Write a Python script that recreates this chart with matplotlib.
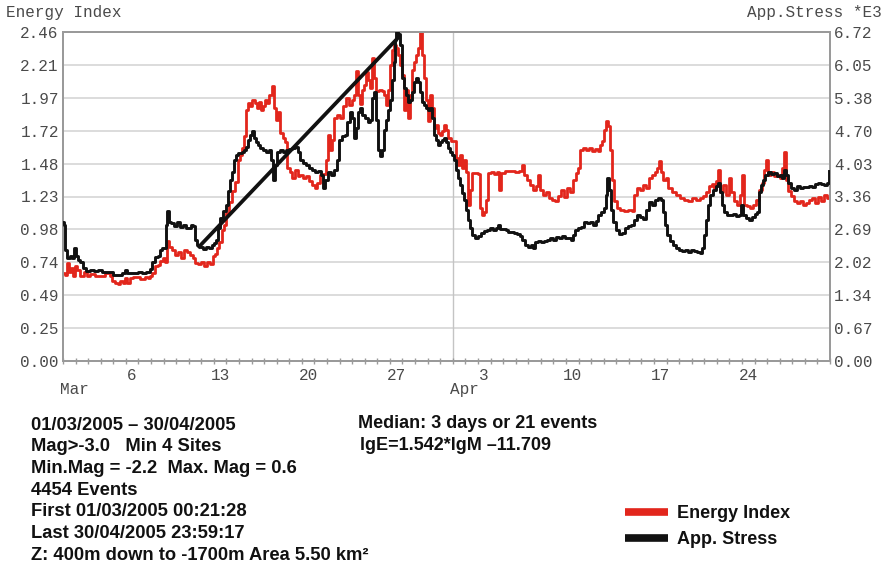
import matplotlib
matplotlib.use("Agg")
import matplotlib.pyplot as plt
from matplotlib.lines import Line2D
from matplotlib.transforms import blended_transform_factory

# ---- time axis: days since 01/03/2005 00:00 ----
day_ticks = [5.5, 12.5, 19.5, 26.5, 33.5, 40.5, 47.5, 54.5]
day_labels = ["6", "13", "20", "27", "3", "10", "17", "24"]
month_starts = [0, 31]
month_labels = ["Mar", "Apr"]

left_ticks = [0.00, 0.246, 0.492, 0.738, 0.984, 1.23, 1.476, 1.722, 1.968, 2.214, 2.46]
left_labels = ["0.00", "0.25", "0.49", "0.74", "0.98", "1.23", "1.48", "1.72", "1.97", "2.21", "2.46"]
right_ticks = [0.0, 0.672, 1.344, 2.016, 2.688, 3.36, 4.032, 4.704, 5.376, 6.048, 6.72]
right_labels = ["0.00", "0.67", "1.34", "2.02", "2.69", "3.36", "4.03", "4.70", "5.38", "6.05", "6.72"]

# ---- Energy Index (left axis) ----
ei_day = [0.00, 0.16, 0.32, 0.48, 0.64, 0.79, 0.95, 1.11, 1.35, 1.67, 1.91, 2.15, 2.54, 2.94, 3.34,
          3.74, 3.90, 4.13, 4.37, 4.53, 4.77, 4.93, 5.09, 5.33, 5.56, 5.88, 6.12, 6.52, 6.76, 6.92,
          7.07, 7.31, 7.55, 7.71, 7.95, 8.11, 8.27, 8.43, 8.66, 8.90, 9.14, 9.38, 9.62, 9.86, 10.10,
          10.33, 10.49, 10.73, 10.97, 11.21, 11.45, 11.69, 11.92, 12.08, 12.24, 12.40, 12.64, 12.80,
          12.96, 13.20, 13.43, 13.67, 13.91, 14.07, 14.23, 14.39, 14.55, 14.71, 14.86, 15.02, 15.26,
          15.42, 15.58, 15.74, 15.90, 16.06, 16.22, 16.38, 16.61, 16.77, 16.93, 17.09, 17.25, 17.49,
          17.65, 17.81, 18.04, 18.20, 18.44, 18.68, 18.84, 19.08, 19.32, 19.56, 19.79, 20.03, 20.19,
          20.43, 20.67, 20.91, 21.07, 21.22, 21.38, 21.54, 21.78, 22.02, 22.26, 22.50, 22.73, 22.97,
          23.13, 23.29, 23.45, 23.61, 23.77, 23.93, 24.09, 24.24, 24.40, 24.56, 24.72, 24.88, 25.12,
          25.36, 25.52, 25.68, 25.83, 25.99, 26.15, 26.31, 26.47, 26.63, 26.79, 26.95, 27.11, 27.27,
          27.42, 27.58, 27.74, 27.90, 28.06, 28.22, 28.38, 28.54, 28.70, 28.86, 29.01, 29.17, 29.33,
          29.49, 29.65, 29.81, 29.97, 30.13, 30.29, 30.45, 30.60, 30.84, 31.08, 31.24, 31.40, 31.56,
          31.72, 31.88, 32.03, 32.19, 32.35, 32.51, 32.75, 32.99, 33.15, 33.31, 33.47, 33.62, 33.78,
          34.02, 34.26, 34.50, 34.66, 34.82, 35.13, 35.53, 35.93, 36.25, 36.49, 36.65, 36.88, 37.12,
          37.36, 37.60, 37.76, 37.92, 38.16, 38.39, 38.63, 38.87, 39.11, 39.35, 39.59, 39.82, 40.06,
          40.30, 40.54, 40.78, 40.94, 41.10, 41.33, 41.57, 41.81, 42.05, 42.29, 42.53, 42.69, 42.84,
          43.00, 43.16, 43.32, 43.48, 43.64, 43.80, 44.04, 44.28, 44.59, 44.91, 45.23, 45.39, 45.63,
          45.87, 46.10, 46.34, 46.58, 46.82, 47.06, 47.22, 47.38, 47.54, 47.69, 47.93, 48.09, 48.41,
          48.73, 49.05, 49.37, 49.68, 50.00, 50.32, 50.64, 50.87, 51.11, 51.35, 51.59, 51.75, 51.91,
          52.07, 52.22, 52.46, 52.70, 52.94, 53.10, 53.34, 53.58, 53.81, 53.97, 54.13, 54.37, 54.61,
          54.85, 55.09, 55.32, 55.56, 55.72, 55.88, 56.04, 56.28, 56.52, 56.76, 56.99, 57.15, 57.31,
          57.47, 57.63, 57.87, 58.11, 58.35, 58.58, 58.82, 59.06, 59.30, 59.54, 59.78, 60.02, 60.25,
          60.49, 60.73, 60.97]
ei_val = [0.658, 0.643, 0.733, 0.665, 0.695, 0.636, 0.710, 0.680, 0.636, 0.665, 0.636, 0.650, 0.636, 0.636, 0.658,
          0.636, 0.598, 0.583, 0.576, 0.598, 0.583, 0.621, 0.583, 0.621, 0.628, 0.628, 0.613, 0.628, 0.621, 0.636,
          0.658, 0.710, 0.718, 0.748, 0.770, 0.740, 0.897, 0.852, 0.830, 0.793, 0.815, 0.770, 0.830, 0.815, 0.793,
          0.770, 0.733, 0.725, 0.740, 0.710, 0.740, 0.725, 0.785, 0.800, 0.845, 0.890, 0.979, 1.017,
          1.107, 1.189, 1.271, 1.338, 1.503, 1.540, 1.593, 1.682, 1.877, 1.929, 1.907, 1.951, 1.929,
          1.892, 1.937, 1.877, 1.907, 1.951, 1.929, 1.989, 2.056, 1.892, 1.802, 1.862, 1.705, 1.667,
          1.637, 1.443, 1.413, 1.368, 1.428, 1.383, 1.391, 1.368, 1.383, 1.346, 1.316, 1.294, 1.331,
          1.391, 1.398, 1.503, 1.690, 1.578, 1.652, 1.817, 1.839, 1.817, 1.907, 1.966, 1.914, 1.951,
          1.989, 2.168, 1.989, 1.922, 2.026, 2.064, 2.161, 2.101, 2.041, 2.266, 2.116, 2.019, 2.026,
          2.019, 1.989, 1.914, 2.026, 2.213, 2.325, 2.363, 2.340, 2.288, 2.213, 2.138, 1.877, 2.026,
          1.817, 1.989, 2.176, 2.236, 2.288, 2.340, 2.460, 2.288, 2.116, 1.951, 1.794, 1.989, 1.892,
          1.742, 1.765, 1.705, 1.690, 1.720, 1.765, 1.727, 1.667, 1.645, 1.645, 1.518, 1.465, 1.540,
          1.443, 1.503, 1.413, 1.166, 1.279, 1.406, 1.406, 1.398, 1.144, 1.092, 1.114, 1.204, 1.406,
          1.413, 1.398, 1.413, 1.279, 1.406, 1.421, 1.421, 1.413, 1.421, 1.465, 1.391, 1.353, 1.316,
          1.279, 1.308, 1.391, 1.279, 1.241, 1.264, 1.219, 1.204, 1.196, 1.234, 1.279, 1.226, 1.294,
          1.264, 1.353, 1.406, 1.443, 1.578, 1.593, 1.578, 1.593, 1.570, 1.585, 1.570, 1.615, 1.645,
          1.727, 1.794, 1.757, 1.578, 1.353, 1.196, 1.144, 1.129, 1.122, 1.129, 1.122, 1.241, 1.294,
          1.279, 1.316, 1.294, 1.368, 1.391, 1.413, 1.443, 1.495, 1.413, 1.353, 1.368, 1.294, 1.264,
          1.241, 1.219, 1.204, 1.196, 1.219, 1.204, 1.219, 1.234, 1.264, 1.308, 1.323, 1.294, 1.346,
          1.428, 1.264, 1.316, 1.241, 1.368, 1.264, 1.196, 1.166, 1.241, 1.391, 1.166, 1.159, 1.144,
          1.166, 1.204, 1.279, 1.331, 1.428, 1.503, 1.391, 1.413, 1.383, 1.391, 1.368, 1.443, 1.563,
          1.353, 1.271, 1.234, 1.196, 1.181, 1.196, 1.166, 1.181, 1.204, 1.219, 1.181, 1.226, 1.196,
          1.241, 1.219, 1.279]

# ---- Apparent Stress *E3 (right axis) ----
as_day = [0.00, 0.08, 0.16, 0.32, 0.56, 0.72, 0.87, 1.03, 1.19, 1.35, 1.59, 1.83, 2.15, 2.46, 2.78,
          3.10, 3.42, 3.74, 3.97, 4.21, 4.45, 4.69, 4.93, 5.09, 5.33, 5.64, 5.96, 6.28, 6.60, 6.92,
          7.07, 7.31, 7.55, 7.71, 7.87, 8.03, 8.19, 8.27, 8.43, 8.58, 8.82, 9.06, 9.30, 9.54, 9.78,
          10.02, 10.17, 10.33, 10.49, 10.65, 10.89, 11.13, 11.37, 11.61, 11.84, 12.00, 12.16, 12.32,
          12.48, 12.72, 12.96, 13.12, 13.27, 13.43, 13.59, 13.75, 13.91, 14.07, 14.23, 14.39, 14.55,
          14.71, 14.86, 15.02, 15.18, 15.34, 15.50, 15.66, 15.90, 16.14, 16.38, 16.53, 16.69, 16.85,
          17.01, 17.25, 17.49, 17.73, 17.97, 18.20, 18.44, 18.68, 18.84, 19.08, 19.32, 19.56, 19.79,
          20.03, 20.27, 20.51, 20.67, 20.83, 21.07, 21.30, 21.54, 21.78, 21.94, 22.18, 22.42, 22.58,
          22.81, 22.97, 23.13, 23.29, 23.45, 23.61, 23.77, 24.01, 24.24, 24.40, 24.56, 24.72, 24.88,
          25.04, 25.20, 25.36, 25.52, 25.68, 25.83, 25.99, 26.15, 26.31, 26.39, 26.47, 26.63, 26.79,
          26.95, 27.11, 27.27, 27.42, 27.58, 27.74, 27.90, 28.06, 28.22, 28.38, 28.54, 28.70, 28.86,
          29.01, 29.17, 29.33, 29.49, 29.65, 29.81, 29.97, 30.13, 30.29, 30.45, 30.60, 30.76, 30.92,
          31.08, 31.24, 31.40, 31.56, 31.72, 31.88, 32.03, 32.19, 32.35, 32.51, 32.75, 32.99, 33.23,
          33.47, 33.70, 33.94, 34.18, 34.42, 34.58, 34.74, 34.98, 35.21, 35.37, 35.61, 35.85, 36.09,
          36.33, 36.49, 36.72, 36.96, 37.20, 37.36, 37.52, 37.76, 38.00, 38.24, 38.47, 38.71, 38.95,
          39.19, 39.43, 39.67, 39.90, 40.14, 40.38, 40.54, 40.70, 40.94, 41.18, 41.41, 41.65, 41.89,
          42.13, 42.37, 42.53, 42.77, 43.00, 43.16, 43.24, 43.40, 43.56, 43.72, 43.96, 44.20, 44.44,
          44.67, 44.91, 45.15, 45.39, 45.63, 45.87, 46.10, 46.34, 46.58, 46.82, 47.06, 47.30, 47.54,
          47.69, 47.85, 48.01, 48.25, 48.49, 48.73, 48.97, 49.21, 49.44, 49.68, 49.92, 50.16, 50.40,
          50.64, 50.79, 50.95, 51.11, 51.27, 51.43, 51.67, 51.91, 52.07, 52.22, 52.38, 52.54, 52.78,
          53.02, 53.26, 53.50, 53.74, 53.89, 54.05, 54.29, 54.53, 54.77, 55.01, 55.17, 55.32, 55.48,
          55.64, 55.80, 56.04, 56.28, 56.52, 56.76, 56.99, 57.15, 57.31, 57.47, 57.63, 57.87, 58.11,
          58.35, 58.58, 58.82, 59.06, 59.30, 59.54, 59.78, 60.02, 60.25, 60.49, 60.73, 60.89]
as_val = [2.839, 2.778, 2.267, 2.104, 2.145, 2.104, 2.308, 2.145, 2.063, 2.022, 1.900, 1.838, 1.859, 1.838, 1.859,
          1.818, 1.818, 1.818, 1.757, 1.757, 1.757, 1.797, 1.859, 1.797, 1.797, 1.797, 1.818, 1.797, 1.818, 1.879,
          2.022, 2.124, 2.145, 2.267, 2.308, 2.308, 2.778, 3.064, 2.839, 2.819, 2.758, 2.839, 2.737, 2.778, 2.717,
          2.717, 2.778, 2.758, 2.472, 2.369, 2.329, 2.288, 2.329, 2.308, 2.369, 2.410, 2.472, 2.717,
          2.921, 3.064, 3.186, 3.472, 3.697, 3.861, 4.106, 4.208, 4.249, 4.249, 4.269, 4.310, 4.371,
          4.514, 4.616, 4.698, 4.555, 4.473, 4.412, 4.351, 4.310, 4.269, 4.310, 4.106, 3.697, 4.003,
          4.269, 4.310, 4.269, 4.310, 4.330, 4.351, 4.371, 4.269, 4.106, 4.044, 4.003, 3.942, 3.901,
          3.861, 3.881, 3.799, 3.534, 3.697, 3.861, 3.799, 3.901, 4.106, 4.514, 4.596, 4.616, 4.882,
          5.086, 4.964, 4.555, 4.759, 5.086, 5.168, 5.025, 4.964, 4.882, 4.923, 5.372, 5.495, 4.923,
          4.310, 4.187, 4.310, 4.718, 4.923, 5.127, 5.331, 5.740, 6.107, 6.557, 6.720, 6.679, 6.455,
          5.781, 5.576, 5.433, 5.290, 5.331, 5.495, 5.699, 5.781, 5.699, 5.495, 5.290, 5.229, 5.168,
          5.127, 5.168, 4.964, 4.616, 4.514, 4.412, 4.473, 4.514, 4.555, 4.473, 4.351, 4.269, 4.208,
          4.106, 3.901, 3.738, 3.595, 3.432, 3.289, 3.084, 2.880, 2.717, 2.574, 2.512, 2.553, 2.615,
          2.655, 2.676, 2.717, 2.676, 2.717, 2.778, 2.696, 2.696, 2.676, 2.635, 2.635, 2.615, 2.594,
          2.553, 2.472, 2.369, 2.329, 2.369, 2.308, 2.431, 2.451, 2.431, 2.451, 2.472, 2.512, 2.472,
          2.533, 2.512, 2.553, 2.512, 2.512, 2.472, 2.574, 2.676, 2.717, 2.737, 2.839, 2.819, 2.839,
          2.778, 2.860, 2.982, 3.043, 3.125, 3.391, 3.738, 3.493, 3.084, 2.839, 2.676, 2.594, 2.615,
          2.717, 2.758, 2.778, 2.880, 2.982, 2.941, 2.900, 3.084, 3.248, 3.186, 3.289, 3.329, 3.289,
          3.043, 2.778, 2.574, 2.451, 2.369, 2.308, 2.267, 2.247, 2.267, 2.226, 2.267, 2.247, 2.226,
          2.206, 2.308, 2.574, 2.880, 3.186, 3.391, 3.493, 3.575, 3.636, 3.452, 3.186, 3.043, 2.982,
          2.982, 3.003, 2.962, 2.982, 3.186, 2.982, 2.921, 2.880, 2.941, 3.003, 3.043, 3.452, 3.595,
          3.697, 3.799, 3.861, 3.820, 3.840, 3.779, 3.799, 3.738, 3.901, 3.799, 3.636, 3.534, 3.493,
          3.575, 3.534, 3.554, 3.554, 3.575, 3.554, 3.615, 3.636, 3.615, 3.595, 3.636, 3.881]

# straight trend drawn across the rise of apparent stress
trend_day = [10.73, 26.79]
trend_val = [2.31, 6.64]

RED = "#e2261c"
BLACK = "#111111"
AXIS_GREY = "#9a9a9a"
GRID_GREY = "#dcdcdc"
TICK_TXT = "#4a4a4a"
MONO = "Liberation Mono"
SANS = "Liberation Sans"

fig = plt.figure(figsize=(8.84, 5.70), dpi=100)
W, H = 884, 570
x0, x1, y0, y1 = 63, 830, 32, 361
ax = fig.add_axes([x0 / W, 1 - y1 / H, (x1 - x0) / W, (y1 - y0) / H])
ax2 = ax.twinx()

ax.set_xlim(0, 61)
ax.set_ylim(0, 2.46)
ax2.set_ylim(0, 6.72)

# horizontal grid and month separator
for t in left_ticks[1:-1]:
    ax.axhline(t, color=GRID_GREY, lw=1.4, zorder=0)
ax.axvline(31, color="#c4c4c4", lw=1.0, zorder=0)

ax.plot(ei_day, ei_val, color=RED, lw=2.0, drawstyle="steps-post", zorder=2)
ax2.plot(as_day, as_val, color=BLACK, lw=2.1, drawstyle="steps-post", zorder=3)
ax2.plot(trend_day, trend_val, color=BLACK, lw=2.7, solid_capstyle="butt", zorder=4)

for a in (ax, ax2):
    for s in a.spines.values():
        s.set_color(AXIS_GREY)
        s.set_linewidth(1.3)

ax.set_yticks(left_ticks)
ax.set_yticklabels(left_labels)
ax2.set_yticks(right_ticks)
ax2.set_yticklabels(right_labels)
ax.tick_params(axis="y", length=0, pad=3, labelsize=11.5, labelcolor=TICK_TXT)
ax2.tick_params(axis="y", length=0, pad=3, labelsize=11.5, labelcolor=TICK_TXT)
for lab in ax.get_yticklabels() + ax2.get_yticklabels():
    lab.set_fontfamily(MONO)

ax.set_xticks(day_ticks)
ax.set_xticklabels(day_labels)
ax.set_xticks(range(0, 62), minor=True)
ax.tick_params(axis="x", which="major", length=0, pad=5, labelsize=11.5, labelcolor=TICK_TXT)
ax.tick_params(axis="x", which="minor", length=5, direction="inout", color=AXIS_GREY, width=1.0)
for lab in ax.get_xticklabels():
    lab.set_fontfamily(MONO)

trans = blended_transform_factory(ax.transData, ax.transAxes)
for m, lbl in zip(month_starts, month_labels):
    ax.text(m - 0.2, -0.088, lbl, transform=trans, ha="left", va="center",
            fontsize=11.5, family=MONO, color=TICK_TXT)

fig.text(6 / W, 1 - 12 / H, "Energy Index", ha="left", va="center",
         fontsize=11.5, family=MONO, color=TICK_TXT)
fig.text(747 / W, 1 - 12 / H, "App.Stress *E3", ha="left", va="center",
         fontsize=11.5, family=MONO, color=TICK_TXT)

# summary block
info_left = [
    "01/03/2005 \u2013 30/04/2005",
    "Mag>-3.0   Min 4 Sites",
    "Min.Mag = -2.2  Max. Mag = 0.6",
    "4454 Events",
    "First 01/03/2005 00:21:28",
    "Last 30/04/2005 23:59:17",
    "Z: 400m down to -1700m Area 5.50 km\u00b2",
]
for i, line in enumerate(info_left):
    fig.text(31 / W, 1 - (425 + i * 21.7) / H, line, ha="left", va="center",
             fontsize=13.2, family=SANS, weight="bold", color="#111111")

fig.text(358 / W, 1 - 424 / H, "Median: 3 days or 21 events", ha="left", va="center",
         fontsize=13.0, family=SANS, weight="bold", color="#111111")
fig.text(360 / W, 1 - 446 / H, "lgE=1.542*lgM \u201311.709", ha="left", va="center",
         fontsize=13.0, family=SANS, weight="bold", color="#111111")

# legend
legend_items = [("Energy Index", RED, 512), ("App. Stress", BLACK, 538)]
for label, col, yy in legend_items:
    fig.add_artist(Line2D([625 / W, 668 / W], [1 - yy / H, 1 - yy / H], color=col, lw=5.5,
                          solid_capstyle="butt", transform=fig.transFigure))
    fig.text(677 / W, 1 - (yy + 1) / H, label, ha="left", va="center",
             fontsize=13.0, family=SANS, weight="bold", color="#111111")

fig.savefig("out.png", dpi=100)
